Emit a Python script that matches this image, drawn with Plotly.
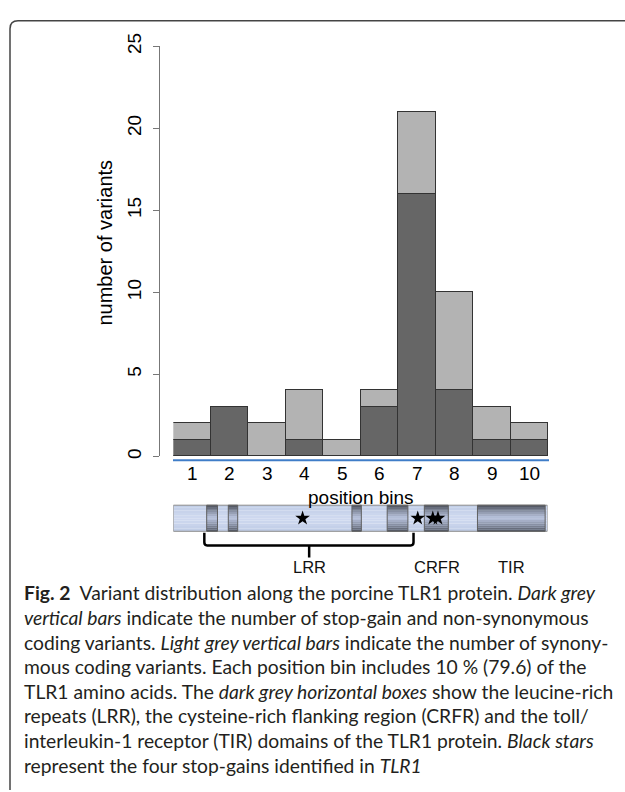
import plotly.graph_objects as go

W, H = 625, 792

# ---- data ----
bins = [1, 2, 3, 4, 5, 6, 7, 8, 9, 10]
bin_labels = ["1", "2", "3", "4", "5", "6", "7", "8", "9", "10"]
nonsyn_counts = [1, 3, 0, 1, 0, 3, 16, 4, 1, 1]      # dark grey (stop-gain + non-synonymous)
syn_counts = [1, 0, 2, 3, 1, 1, 5, 6, 2, 1]          # light grey (synonymous)
y_ticks = [0, 5, 10, 15, 20, 25]

protein_length = 796
domain_starts = [71, 117, 380, 455, 534, 647]
domain_ends = [94, 137, 400, 499, 585, 791]
stop_gain_pos = [275, 520, 552, 563]
region_labels = ["LRR", "CRFR", "TIR"]
region_label_pos = [289, 560, 720]
lrr_span = [66, 511]

caption_lines = [
    "<b>Fig. 2</b>\u00a0 Variant distribution along the porcine TLR1 protein. <i>Dark grey</i>",
    "<i>vertical bars</i> indicate the number of stop-gain and non-synonymous",
    "coding variants. <i>Light grey vertical bars</i> indicate the number of synony-",
    "mous coding variants. Each position bin includes 10\u00a0% (79.6) of the",
    "TLR1 amino acids. The <i>dark grey horizontal boxes</i> show the leucine-rich",
    "repeats (LRR), the cysteine-rich flanking region (CRFR) and the toll/",
    "interleukin-1 receptor (TIR) domains of the TLR1 protein. <i>Black stars</i>",
    "represent the four stop-gains identified in <i>TLR1</i>",
]


def px(x):
    return x / W


def py(y):
    return 1 - y / H


AX_FONT = "Liberation Sans, Arial, sans-serif"
CAP_FONT = "Lato, Open Sans, sans-serif"

fig = go.Figure()
fig.add_trace(go.Bar(x=bins, y=nonsyn_counts, marker=dict(color="#666666", line=dict(color="#333333", width=1)),
                     showlegend=False, hoverinfo="skip"))
fig.add_trace(go.Bar(x=bins, y=syn_counts, marker=dict(color="#b3b3b3", line=dict(color="#333333", width=1)),
                     showlegend=False, hoverinfo="skip"))

# stop-gain stars on protein axis
fig.add_trace(go.Scatter(x=stop_gain_pos, y=[0.5] * len(stop_gain_pos), mode="markers",
                         marker=dict(symbol="star", size=11, color="black", line=dict(width=0)),
                         xaxis="x2", yaxis="y2", showlegend=False, hoverinfo="skip", cliponaxis=False))

shapes = []
# frame
shapes.append(dict(type="path", xref="paper", yref="paper", layer="below",
                   path=f"M {px(10)},{py(792)} L {px(10)},{py(16)} Q {px(10)},{py(8)} {px(18)},{py(8)} L {px(625)},{py(8)}",
                   line=dict(color="#444444", width=1.5)))
# blue baseline
shapes.append(dict(type="line", xref="paper", yref="paper", x0=px(173), x1=px(549), y0=py(456), y1=py(456),
                   line=dict(color="#3f7dc8", width=2), layer="below"))

# protein box (light) with mild gradient
N = 10
for i in range(N):
    t = (i + 0.5) / N
    k = 1 - abs(2 * t - 1)
    r = int(192 + 16 * k)
    g = int(205 + 13 * k)
    b = int(230 + 10 * k)
    shapes.append(dict(type="rect", xref="x2", yref="y2", x0=0, x1=protein_length, y0=i / N, y1=(i + 1) / N,
                       fillcolor=f"rgb({r},{g},{b})", line=dict(width=0), layer="below"))
shapes.append(dict(type="rect", xref="x2", yref="y2", x0=0, x1=protein_length, y0=0, y1=1,
                   line=dict(color="#8a8a8a", width=1), fillcolor="rgba(0,0,0,0)", layer="below"))

# domain boxes with gradient
M = 14
for s, e in zip(domain_starts, domain_ends):
    for i in range(M):
        t = (i + 0.5) / M
        k = (1 - abs(2 * t - 1)) ** 0.8
        r = int(72 + (185 - 72) * k)
        g = int(76 + (196 - 76) * k)
        b = int(86 + (222 - 86) * k)
        shapes.append(dict(type="rect", xref="x2", yref="y2", x0=s, x1=e, y0=i / M, y1=(i + 1) / M,
                           fillcolor=f"rgb({r},{g},{b})", line=dict(width=0), layer="below"))
    shapes.append(dict(type="rect", xref="x2", yref="y2", x0=s, x1=e, y0=0, y1=1,
                       line=dict(color="#606060", width=1), fillcolor="rgba(0,0,0,0)", layer="below"))

# LRR bracket
a, b_ = lrr_span
mid = region_label_pos[0]
shapes.append(dict(type="path", xref="x2", yref="y2", layer="below",
                   path=f"M {a},-0.06 L {a},-0.42 Q {a},-0.54 {a+6},-0.54 L {b_-6},-0.54 Q {b_},-0.54 {b_},-0.42 L {b_},-0.06",
                   line=dict(color="black", width=2.5)))
shapes.append(dict(type="line", xref="x2", yref="y2", x0=mid, x1=mid, y0=-0.54, y1=-1.0, layer="below",
                   line=dict(color="black", width=2.5)))

annotations = []
# x tick labels (bin numbers), placed on the bin axis
for bv, lab in zip(bins, bin_labels):
    annotations.append(dict(x=bv, y=py(469), xref="x", yref="paper", text=lab, showarrow=False,
                            xanchor="center", yanchor="middle",
                            font=dict(family=AX_FONT, size=19, color="black")))
annotations.append(dict(x=px(105), y=py(234), xref="paper", yref="paper", text="number of variants",
                        textangle=-90, showarrow=False, xanchor="center", yanchor="middle",
                        font=dict(family=AX_FONT, size=20, color="black")))
annotations.append(dict(x=px(360.5), y=py(494), xref="paper", yref="paper", text="position bins",
                        showarrow=False, xanchor="center", yanchor="middle",
                        font=dict(family=AX_FONT, size=19, color="black")))
for lab, pos in zip(region_labels, region_label_pos):
    annotations.append(dict(x=pos, y=-1.38, xref="x2", yref="y2", text=lab, showarrow=False,
                            xanchor="center", yanchor="middle",
                            font=dict(family=AX_FONT, size=16.5, color="#111111")))

cap_y0, cap_dy = 591, 25.1
for i, line in enumerate(caption_lines):
    annotations.append(dict(x=px(22), y=py(cap_y0 + i * cap_dy), xref="paper", yref="paper", text=line,
                            xanchor="left", yanchor="middle", align="left", showarrow=False,
                            font=dict(family=CAP_FONT, size=19.3, color="#231f20")))

fig.update_layout(
    width=W, height=H,
    margin=dict(l=0, r=0, t=0, b=0),
    paper_bgcolor="white", plot_bgcolor="rgba(0,0,0,0)",
    barmode="stack", bargap=0,
    shapes=shapes, annotations=annotations,
    xaxis=dict(domain=[px(173.3), px(548.3)], range=[0.5, 10.5], tickvals=bins,
               showticklabels=False, showgrid=False, zeroline=False, showline=False, ticks="",
               anchor="y", fixedrange=True),
    yaxis=dict(domain=[py(452), py(34)], range=[0, 25], tickvals=y_ticks,
               anchor="free", position=px(158.5), showgrid=False, zeroline=False,
               showline=True, linecolor="#777777", linewidth=1, ticks="outside", ticklen=6,
               tickcolor="#777777", tickangle=-90, ticklabelstandoff=4,
               tickfont=dict(family=AX_FONT, size=19, color="black"), fixedrange=True),
    xaxis2=dict(domain=[px(173.3), px(547.5)], range=[0, protein_length], visible=False, anchor="y2"),
    yaxis2=dict(domain=[py(576.2), py(497.7)], range=[-1.8, 1.15], visible=False, anchor="x2"),
)

fig.write_html("out.html", config={"displayModeBar": False},
               post_script="document.body.style.margin='0';document.body.style.overflow='hidden';")
